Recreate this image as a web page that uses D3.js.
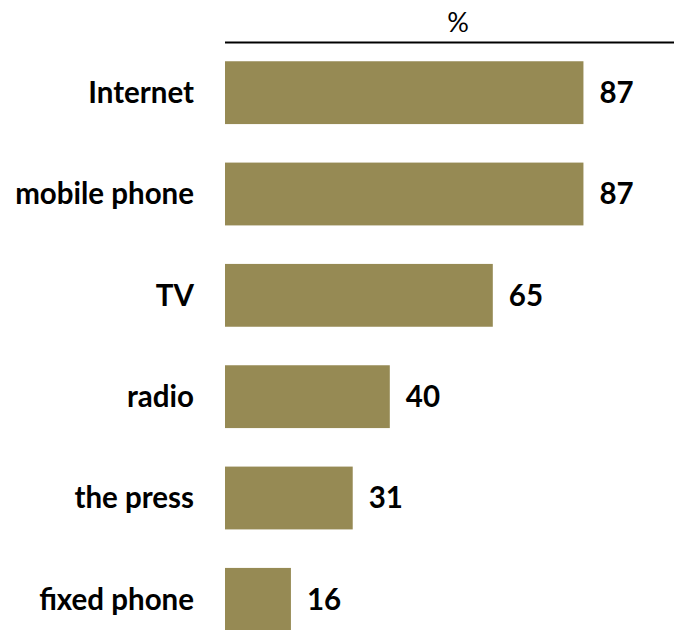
<!DOCTYPE html>
<html>
<head>
<meta charset="utf-8">
<script src="https://cdn.jsdelivr.net/npm/d3@7"></script>
<style>
  html, body { margin: 0; padding: 0; background: #fff; }
  svg { display: block; }
  text { font-family: Lato, "Open Sans", sans-serif; fill: #000; }
</style>
</head>
<body>
<svg id="chart" width="674" height="630"></svg>
<script>
// Share of respondents using each medium (%)
const categories = ["Internet", "mobile phone", "TV", "radio", "the press", "fixed phone"];
const values = [87, 87, 65, 40, 31, 16];
const unitLabel = "%";

const width = 674, height = 630;
const svg = d3.select("#chart");

const x = d3.scaleLinear().domain([0, 100]).range([225, 637]);
const y = d3.scaleBand().domain(categories).range([42, 650]).paddingInner(0.38).paddingOuter(0.19);

const rows = categories.map((c, i) => ({ cat: c, val: values[i] }));

// unit header and rule
svg.append("text")
  .attr("x", 458).attr("y", 31.5)
  .attr("text-anchor", "middle")
  .style("font-size", "27px")
  .text(unitLabel);

svg.append("line")
  .attr("x1", x(0)).attr("x2", width)
  .attr("y1", 42.5).attr("y2", 42.5)
  .attr("stroke", "#000").attr("stroke-width", 2);

// bars
svg.selectAll("rect.bar").data(rows).join("rect")
  .attr("class", "bar")
  .attr("x", x(0))
  .attr("y", d => y(d.cat))
  .attr("width", d => x(d.val) - x(0))
  .attr("height", y.bandwidth())
  .attr("fill", "#968a54");

// category labels
svg.selectAll("text.cat").data(rows).join("text")
  .attr("class", "cat")
  .attr("x", 194)
  .attr("y", d => y(d.cat) + y.bandwidth() / 2)
  .attr("dy", "0.35em")
  .attr("text-anchor", "end")
  .style("font-size", "29.5px")
  .style("font-weight", "bold")
  .text(d => d.cat);

// value labels
svg.selectAll("text.val").data(rows).join("text")
  .attr("class", "val")
  .attr("x", d => x(d.val) + 16)
  .attr("y", d => y(d.cat) + y.bandwidth() / 2)
  .attr("dy", "0.35em")
  .style("font-size", "29.5px")
  .style("font-weight", "bold")
  .text(d => d.val);
</script>
</body>
</html>
